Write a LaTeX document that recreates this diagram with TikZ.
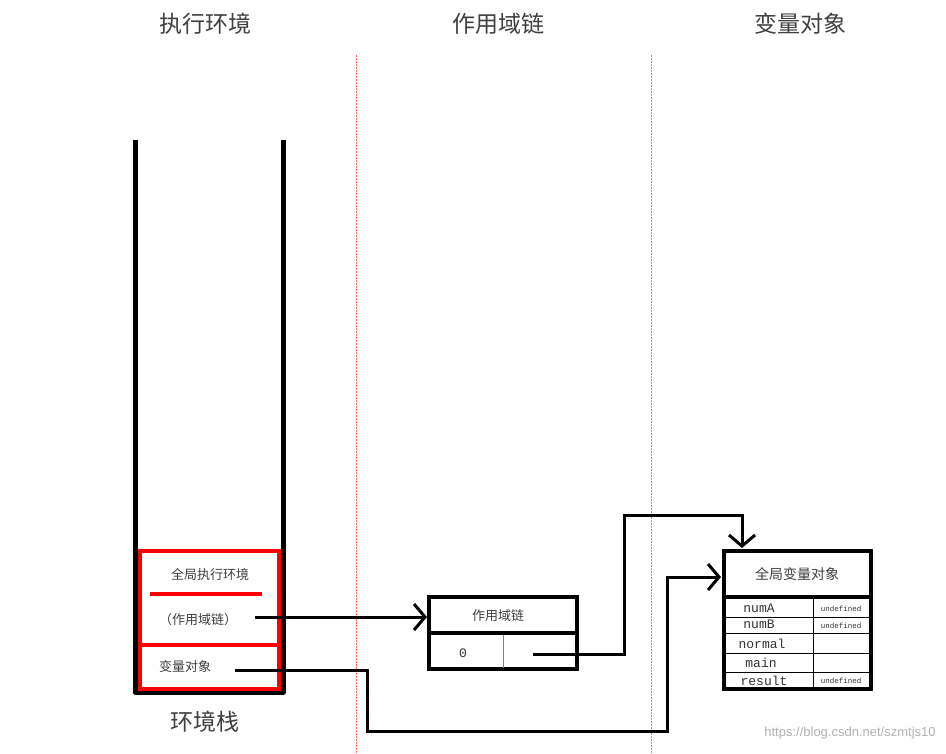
\documentclass[tikz,border=0pt]{standalone}
\usepackage{fontspec}
\setmainfont{Liberation Serif}
\newfontfamily\cjk{Noto Sans CJK SC}
\newfontfamily\mono{Liberation Mono}
\usetikzlibrary{arrows.meta}
\begin{document}
\begin{tikzpicture}[x=1pt,y=-1pt,
  thickline/.style={line width=5pt},
  redline/.style={line width=4pt,red},
  conn/.style={line width=3pt,-{Straight Barb[length=11pt,width=26pt,line width=3pt]}},
  hdr/.style={font=\cjk\fontsize{23}{26}\selectfont,text=black!75},
  lbl/.style={font=\cjk\fontsize{13}{15}\selectfont,text=black!75},
  mlbl/.style={font=\mono\fontsize{13}{14}\selectfont,text=black!80},
  slbl/.style={font=\mono\fontsize{7.5}{8}\selectfont,text=black!80}]
\useasboundingbox (0,0) rectangle (946,754);
\fill[white] (0,0) rectangle (946,754);
% dashed separators
\draw[red!60,line width=0.8pt,dash pattern=on 2pt off 1pt] (356,55) -- (356,754);
\draw[red!60,line width=0.8pt,dash pattern=on 2pt off 1pt] (651,55) -- (651,754);
% headers
\node[hdr] (h1) at (205,24) {执行环境};
\node[hdr] (h2) at (498,24) {作用域链};
\node[hdr] (h3) at (800,24) {变量对象};
% stack
\draw[thickline,line join=round] (135,140) -- (135,692) -- (283,692) -- (283,140);
\draw[redline] (140,551) rectangle (279,689);
\draw[redline] (140,645) -- (279,645);
\draw[redline] (150,594) -- (262,594);
\node[lbl] (g) at (210,575) {全局执行环境};
\node[lbl] (sc) at (198,620) {（作用域链）};
\coordinate (scE) at (255,617);
\node[lbl] (vo) at (185,667) {变量对象};
\coordinate (voE) at (235,670);
\node[hdr] (stk) at (205,722) {环境栈};
% scope box
\draw[line width=4.5pt] (429,597) rectangle (577,669);
\draw[line width=4.5pt] (429,633) -- (577,633);
\draw[line width=0.4pt,gray] (503,635) -- (503,668);
\node[lbl] (sb) at (498,616) {作用域链};
\node[mlbl] (z) at (463,653) {0};
\coordinate (zE) at (533,654);
% variable object box
\draw[line width=4.5pt] (724,551) rectangle (871,689);
\draw[line width=4.5pt] (724,597) -- (871,597);
\foreach \yy in {617,633,653,672} \draw[line width=0.8pt] (725,\yy) -- (870,\yy);
\draw[line width=0.6pt] (813,599) -- (813,688);
\node[lbl,font=\cjk\fontsize{14}{16}\selectfont] (vb) at (797,574) {全局变量对象};
\node[mlbl] (a) at (759,608) {numA};
\node[mlbl] (b) at (759,624) {numB};
\node[mlbl] (c) at (762,644) {normal};
\node[mlbl] (d) at (761,663) {main};
\node[mlbl] (e) at (764,681) {result};
\node[slbl] at (841,609) {undefined};
\node[slbl] at (841,626) {undefined};
\node[slbl] at (841,681) {undefined};
\coordinate (vbTop) at (742,548);
\coordinate (vbLeft) at (721,577);
% connectors
\draw[conn] (scE) -- (427,617);
\draw[conn] (zE) -- (624,654) -- (624,515) -- (742,515) -- (vbTop);
\draw[conn] (voE) -- (367,670) -- (367,731) -- (667,731) -- (667,577) -- (vbLeft);
% watermark
\node[font=\fontspec{Liberation Sans}\fontsize{13}{15}\selectfont,text=black!30] at (850,733) {https://blog.csdn.net/szmtjs10};
\end{tikzpicture}
\end{document}
